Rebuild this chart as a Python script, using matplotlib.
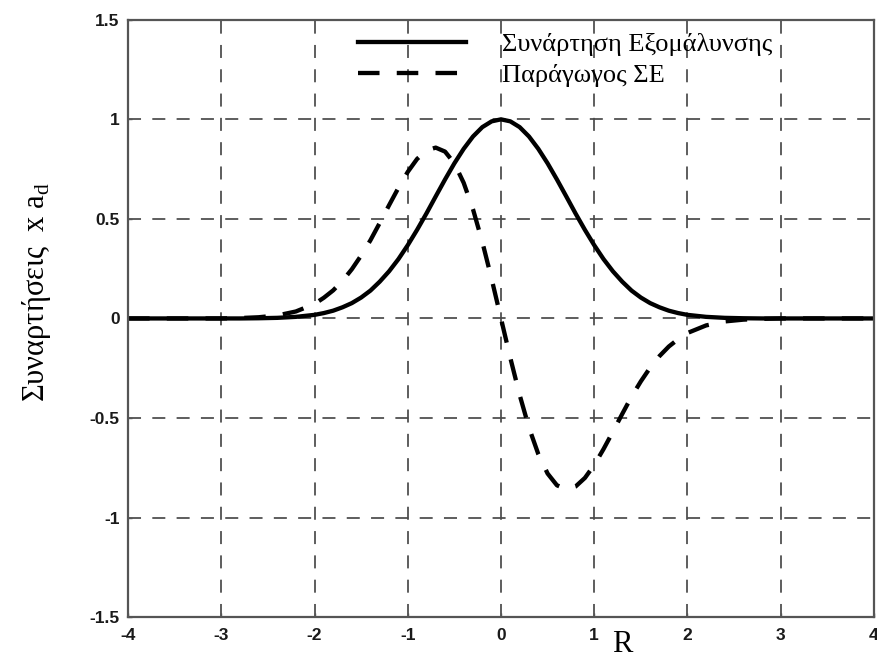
import matplotlib
matplotlib.use('Agg')
import matplotlib.pyplot as plt

# Δεδομένα διαβασμένα από το γράφημα
R = [-4.0, -3.5, -3.0, -2.8, -2.6, -2.4, -2.2,
     -2.0, -1.9, -1.8, -1.7, -1.6, -1.5, -1.4, -1.3, -1.2, -1.1,
     -1.0, -0.9, -0.8, -0.7, -0.6, -0.5, -0.4, -0.3, -0.2, -0.1,
     0.0, 0.1, 0.2, 0.3, 0.4, 0.5, 0.6, 0.7, 0.8, 0.9,
     1.0, 1.1, 1.2, 1.3, 1.4, 1.5, 1.6, 1.7, 1.8, 1.9, 2.0,
     2.2, 2.4, 2.6, 2.8, 3.0, 3.5, 4.0]

exomalynsi = [0.0, 0.0, 0.0, 0.0, 0.001, 0.003, 0.008,
              0.018, 0.027, 0.039, 0.056, 0.077, 0.105, 0.14, 0.185, 0.237, 0.298,
              0.368, 0.445, 0.527, 0.613, 0.698, 0.779, 0.852, 0.914, 0.961, 0.99,
              1.0, 0.99, 0.961, 0.914, 0.852, 0.779, 0.698, 0.613, 0.527, 0.445,
              0.368, 0.298, 0.237, 0.185, 0.14, 0.105, 0.077, 0.056, 0.039, 0.027, 0.018,
              0.008, 0.003, 0.001, 0.0, 0.0, 0.0, 0.0]

paragogos = [0.0, 0.0, 0.0, 0.002, 0.006, 0.015, 0.035,
             0.073, 0.104, 0.141, 0.189, 0.247, 0.316, 0.393, 0.48, 0.569, 0.656,
             0.736, 0.801, 0.844, 0.858, 0.838, 0.779, 0.681, 0.548, 0.384, 0.198,
             0.0, -0.198, -0.384, -0.548, -0.681, -0.779, -0.838, -0.858, -0.844, -0.801,
             -0.736, -0.656, -0.569, -0.48, -0.393, -0.316, -0.247, -0.189, -0.141, -0.104, -0.073,
             -0.035, -0.015, -0.006, -0.002, 0.0, 0.0, 0.0]

x_ticks = [-4, -3, -2, -1, 0, 1, 2, 3, 4]
y_ticks = [-1.5, -1, -0.5, 0, 0.5, 1, 1.5]
y_ticklabels = ['-1.5', '-1', '-0.5', '0', '0.5', '1', '1.5']

plt.rcParams['mathtext.fontset'] = 'custom'
plt.rcParams['mathtext.rm'] = 'Liberation Serif'

fig = plt.figure(figsize=(8.77, 6.6), dpi=100)
ax = fig.add_axes([0.146, 0.065, 0.8505, 0.905])

# Καμπύλες
ax.plot(R, exomalynsi, color='black', lw=3.1, label='Συνάρτηση Εξομάλυνσης')
ax.plot(R, paragogos, color='black', lw=3.1, linestyle=(0, (5.0, 4.0)),
        label='Παράγωγος ΣΕ')

ax.set_xlim(-4, 4)
ax.set_ylim(-1.5, 1.5)
ax.set_xticks(x_ticks)
ax.set_yticks(y_ticks)
ax.set_xticklabels([str(t) for t in x_ticks])
ax.set_yticklabels(y_ticklabels)

# Πλέγμα με διακεκομμένες γραμμές
ax.grid(True, color='#4a4a4a', linestyle=(0, (7.5, 6.5)), linewidth=1.25)
ax.set_axisbelow(True)

for s in ax.spines.values():
    s.set_color('#555555')
    s.set_linewidth(1.6)

ax.tick_params(direction='in', length=3, width=1, color='#555555')
ax.tick_params(axis='x', pad=8)
ax.tick_params(axis='y', pad=6)
for lbl in ax.get_xticklabels() + ax.get_yticklabels():
    lbl.set_fontfamily('Liberation Sans')
    lbl.set_fontweight('bold')
    lbl.set_fontsize(12.5)
    lbl.set_color('#1a1a1a')

# Τίτλοι αξόνων
fig.text(0.042, 0.558, 'Συναρτήσεις  x a$_\\mathrm{d}$', rotation=90,
         family='Liberation Serif', fontsize=22, ha='center', va='center')
fig.text(0.709, 0.024, 'R', family='Liberation Serif', fontsize=22,
         ha='center', va='center')

leg = ax.legend(loc='upper left', bbox_to_anchor=(0.308, 0.978), frameon=False,
                borderaxespad=0, borderpad=0,
                prop={'family': 'Liberation Serif', 'size': 19},
                handlelength=4.1, handletextpad=1.35, labelspacing=0.28)

fig.savefig('out.png', dpi=100)
